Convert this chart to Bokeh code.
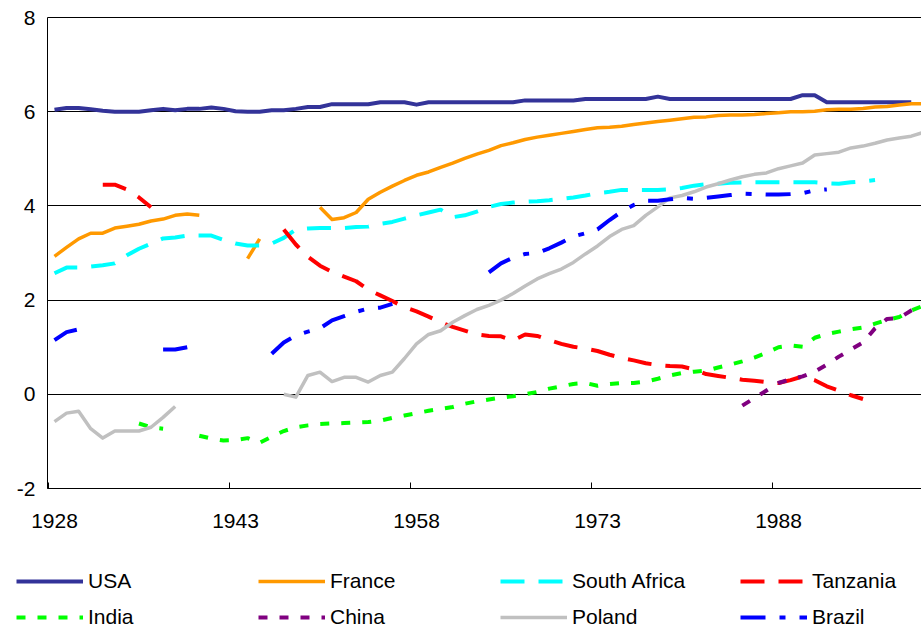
import numpy as np
from bokeh.plotting import figure
from bokeh.models import (Range1d, FixedTicker, Legend, LegendItem,
                          ColumnDataSource, BoxAnnotation)
from bokeh.embed import file_html
from bokeh.resources import INLINE

years = list(range(1928, 2001))

usa = [
    6.04, 6.08, 6.08, 6.05, 6.02, 6.00, 6.00, 6.00, 6.03, 6.06,
    6.03, 6.06, 6.06, 6.09, 6.06, 6.01, 6.00, 6.00, 6.03, 6.03,
    6.06, 6.10, 6.10, 6.16, 6.16, 6.16, 6.16, 6.20, 6.20, 6.20,
    6.15, 6.20, 6.20, 6.20, 6.20, 6.20, 6.20, 6.20, 6.20, 6.24,
    6.24, 6.24, 6.24, 6.24, 6.27, 6.27, 6.27, 6.27, 6.27, 6.27,
    6.32, 6.27, 6.27, 6.27, 6.27, 6.27, 6.27, 6.27, 6.27, 6.27,
    6.27, 6.27, 6.35, 6.35, 6.20, 6.20, 6.20, 6.20, 6.20, 6.20,
    6.20, 6.20, None]

france = [
    2.93, 3.12, 3.30, 3.42, 3.42, 3.53, 3.57, 3.61, 3.68, 3.72,
    3.80, 3.83, 3.80, None, None, None, 2.88, 3.30, None, None,
    None, None, 3.97, 3.71, 3.75, 3.86, 4.14, 4.29, 4.42, 4.54,
    4.65, 4.72, 4.82, 4.91, 5.01, 5.10, 5.18, 5.28, 5.34, 5.41,
    5.46, 5.50, 5.54, 5.58, 5.62, 5.66, 5.67, 5.69, 5.73, 5.76,
    5.79, 5.82, 5.85, 5.88, 5.89, 5.92, 5.93, 5.93, 5.94, 5.96,
    5.98, 6.00, 6.00, 6.01, 6.04, 6.05, 6.05, 6.07, 6.10, 6.11,
    6.14, 6.17, 6.17]

south_africa = [
    2.57, 2.69, 2.69, 2.71, 2.74, 2.78, 2.95, 3.09, 3.20, 3.31,
    3.33, 3.37, 3.37, 3.37, 3.28, 3.20, 3.16, 3.16, 3.20, 3.32,
    3.50, 3.52, 3.53, 3.53, 3.53, 3.55, 3.56, 3.62, 3.66, 3.73,
    3.80, 3.86, 3.92, 3.76, 3.80, 3.88, 3.98, 4.04, 4.07, 4.09,
    4.10, 4.12, 4.15, 4.18, 4.22, 4.27, 4.30, 4.34, 4.34, 4.34,
    4.34, 4.35, 4.38, 4.43, 4.46, 4.47, 4.49, 4.50, 4.50, 4.50,
    4.50, 4.50, 4.50, 4.50, 4.48, 4.47, 4.50, 4.52, 4.55, None,
    None, None, None]

tanzania = [
    None, None, None, None, 4.45, 4.45, 4.35, 4.18, 3.97, None,
    None, None, None, None, None, None, None, None, None, 3.50,
    3.18, 2.92, 2.73, 2.60, 2.50, 2.40, 2.22, 2.10, 1.98, 1.85,
    1.76, 1.65, 1.53, 1.43, 1.35, 1.27, 1.24, 1.23, 1.14, 1.27,
    1.24, 1.15, 1.07, 1.01, 0.97, 0.92, 0.84, 0.77, 0.72, 0.66,
    0.62, 0.60, 0.59, 0.53, 0.43, 0.39, 0.35, 0.31, 0.29, 0.26,
    0.24, 0.30, 0.38, 0.30, 0.17, 0.08, -0.02, -0.10, None, None,
    None, None, None]

india = [
    None, None, None, None, None, None, None, -0.62, -0.70, -0.73,
    None, None, -0.88, -0.94, -0.98, -0.97, -0.93, -1.03, -0.90, -0.78,
    -0.70, -0.66, -0.63, -0.62, -0.61, -0.60, -0.59, -0.56, -0.50, -0.45,
    -0.40, -0.35, -0.31, -0.27, -0.20, -0.15, -0.11, -0.07, -0.04, 0.00,
    0.05, 0.12, 0.17, 0.22, 0.24, 0.18, 0.22, 0.24, 0.24, 0.27,
    0.33, 0.40, 0.45, 0.48, 0.50, 0.57, 0.63, 0.70, 0.78, 0.88,
    1.00, 1.04, 1.01, 1.20, 1.28, 1.33, 1.38, 1.42, 1.50, 1.58,
    1.64, 1.78, 1.88]

china = [None] * 57 + [
    -0.24, -0.08, 0.08, 0.24, 0.32, 0.38, 0.48, 0.63, 0.80, 0.95,
    1.10, 1.40, 1.60, 1.62, 1.78, 1.90]

poland = [
    -0.58, -0.40, -0.36, -0.73, -0.93, -0.78, -0.78, -0.78, -0.70, -0.49,
    -0.26, None, None, None, None, None, None, None, None, 0.00,
    -0.06, 0.40, 0.47, 0.27, 0.36, 0.36, 0.26, 0.40, 0.47, 0.76,
    1.07, 1.27, 1.35, 1.53, 1.67, 1.80, 1.89, 2.00, 2.14, 2.30,
    2.45, 2.56, 2.66, 2.80, 2.98, 3.15, 3.35, 3.50, 3.58, 3.80,
    3.98, 4.17, 4.22, 4.30, 4.40, 4.47, 4.55, 4.62, 4.67, 4.70,
    4.79, 4.85, 4.91, 5.08, 5.11, 5.14, 5.23, 5.27, 5.33, 5.40,
    5.44, 5.48, 5.56]

brazil = [
    1.15, 1.32, 1.38, None, None, None, None, None, None, 0.95,
    0.95, 1.00, None, None, None, None, None, None, 0.86, 1.10,
    1.25, 1.33, 1.40, 1.57, 1.66, 1.75, 1.82, 1.84, 1.92, None,
    None, None, None, None, None, None, 2.59, 2.78, 2.90, 2.98,
    3.00, 3.10, 3.22, 3.35, 3.42, 3.50, 3.70, 3.88, 4.02, 4.11,
    4.11, 4.14, 4.17, 4.15, 4.17, 4.20, 4.23, 4.26, 4.25, 4.24,
    4.24, 4.25, 4.27, 4.33, 4.35, None, None, None, None, None,
    None, None, None]

x_tick_labels = [1928, 1943, 1958, 1973, 1988]
y_ticks = [-2, 0, 2, 4, 6, 8]

series = [
    ("USA", usa, "#333399", None, 4),
    ("France", france, "#FF9900", None, 3.5),
    ("South Africa", south_africa, "#00FFFF", "24 14", 4),
    ("Tanzania", tanzania, "#FF0000", "24 14", 4),
    ("India", india, "#00FF00", "9 12", 4),
    ("China", china, "#800080", "9 12", 4),
    ("Poland", poland, "#C0C0C0", None, 3.5),
    ("Brazil", brazil, "#0000FF", "25 14 6 14", 4),
]

FONT = "Liberation Sans"
FS = "21px"
W, H = 921, 633
PX_PER_YEAR = 12.067
PX_PER_UNIT = 47.1
AXIS_X = 1927.42          # year position of the left axis line
AXIS_PX = 47              # screen x of the left axis line
TOP_PX = 17               # screen y of the value 8

x_start = AXIS_X - AXIS_PX / PX_PER_YEAR
x_end = AXIS_X + (W - AXIS_PX) / PX_PER_YEAR
y_top = 8 + TOP_PX / PX_PER_UNIT
y_bottom = y_top - H / PX_PER_UNIT

p = figure(width=W, height=H, output_backend="svg", toolbar_location=None,
           x_range=Range1d(x_start, x_end), y_range=Range1d(y_bottom, y_top),
           min_border_left=0, min_border_right=0, min_border_top=0,
           min_border_bottom=0)
p.outline_line_color = None
p.xgrid.visible = False
grid = p.ygrid[0]
grid.ticker = FixedTicker(ticks=y_ticks)
grid.grid_line_color = "black"
grid.grid_line_width = 1
if "cross_bounds" in grid.properties():
    grid.cross_bounds = (AXIS_X, x_end + 1)
else:
    p.add_layout(BoxAnnotation(right=AXIS_X, bottom=-2.5, top=y_top + 1,
                               fill_color="white", fill_alpha=1,
                               line_color=None, level="underlay"))

yax = p.yaxis[0]
yax.fixed_location = AXIS_X
yax.bounds = (-2, 8)
yax.ticker = FixedTicker(ticks=y_ticks)
yax.major_label_overrides = {t: str(t) for t in y_ticks}
yax.major_tick_in = 0
yax.major_tick_out = 0
yax.minor_tick_line_color = None
yax.axis_line_color = "black"
yax.major_label_text_font = FONT
yax.major_label_text_font_size = FS
yax.major_label_text_color = "black"
yax.major_label_standoff = 12

xax = p.xaxis[0]
xax.fixed_location = -2
xax.bounds = (AXIS_X, x_end + 1)
xax.ticker = FixedTicker(ticks=x_tick_labels,
                         minor_ticks=[y - 0.5 for y in x_tick_labels])
xax.major_tick_in = 0
xax.major_tick_out = 0
xax.minor_tick_in = 6
xax.minor_tick_out = 0
xax.minor_tick_line_color = "black"
xax.axis_line_color = "black"
xax.major_label_text_font = FONT
xax.major_label_text_font_size = FS
xax.major_label_text_color = "black"
xax.major_label_standoff = 25

renderers = {}
for name, vals, color, dash, lw in series:
    y = np.array([np.nan if v is None else v for v in vals], dtype=float)
    src = ColumnDataSource(dict(x=years, y=y))
    kw = dict(line_color=color, line_width=lw)
    if dash:
        kw["line_dash"] = dash
    else:
        kw["line_join"] = "round"
    renderers[name] = p.line("x", "y", source=src, **kw)

columns = [("USA", "India"), ("France", "China"),
           ("South Africa", "Poland"), ("Tanzania", "Brazil")]
col_x = [16, 258, 500, 740]
for (a, b), vx in zip(columns, col_x):
    leg = Legend(items=[LegendItem(label=a, renderers=[renderers[a]]),
                        LegendItem(label=b, renderers=[renderers[b]])],
                 location=(vx, 4), orientation="vertical",
                 glyph_width=67, glyph_height=14, label_height=14,
                 label_standoff=5, spacing=12, padding=0, margin=0,
                 border_line_color=None, background_fill_alpha=0,
                 label_text_font=FONT, label_text_font_size=FS,
                 label_text_color="black")
    p.add_layout(leg)

open("out.html", "w").write(file_html(p, INLINE))
